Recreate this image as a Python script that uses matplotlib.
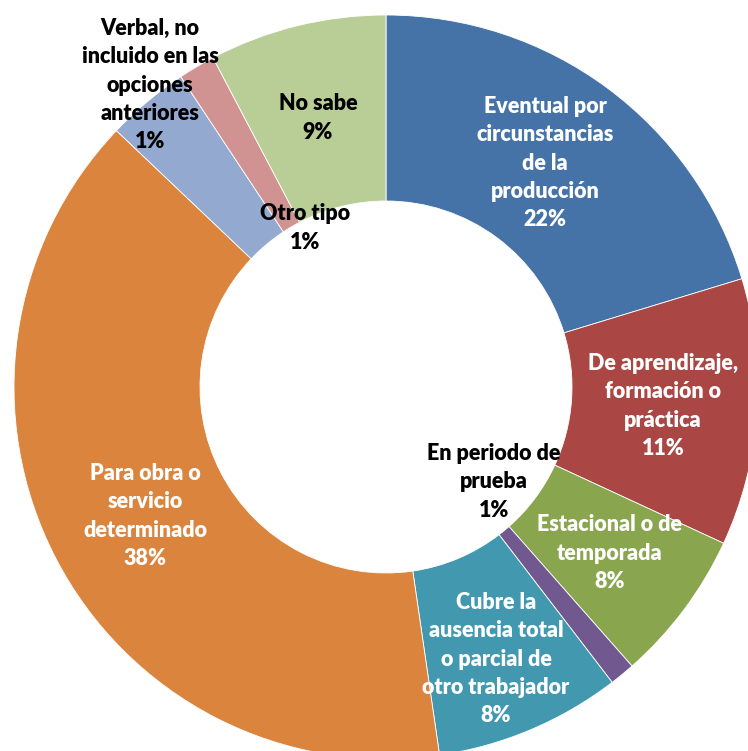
import matplotlib
matplotlib.use("Agg")
import matplotlib.pyplot as plt

# Slice shares (clockwise from 12 o'clock)
categories = [
    "Eventual por\ncircunstancias\nde la\nproducción",
    "De aprendizaje,\nformación o\npráctica",
    "Estacional o de\ntemporada",
    "En periodo de\nprueba",
    "Cubre la\nausencia total\no parcial de\notro trabajador",
    "Para obra o\nservicio\ndeterminado",
    "Verbal, no\nincluido en las\nopciones\nanteriores",
    "Otro tipo",
    "No sabe",
]
values = [20.3, 11.6, 6.6, 1.1, 8.1, 39.4, 3.6, 1.6, 7.7]
pct_labels = ["22%", "11%", "8%", "1%", "8%", "38%", "1%", "1%", "9%"]
colors = ["#4572A7", "#AA4643", "#89A54E", "#71588F", "#4198AF",
          "#DB843D", "#93A9CF", "#D19392", "#B9CD96"]
label_colors = ["white", "white", "white", "black", "white",
                "white", "black", "black", "black"]
# label anchor positions in pixels (x, y from top)
label_pos = [(545, 163), (663, 406), (610, 553), (494, 482), (496, 659),
             (145, 516), (150, 85), (305, 228), (318, 118)]

W, H = 748, 751
fig = plt.figure(figsize=(W / 100, H / 100), dpi=100)
ax = fig.add_axes([0, 0, 1, 1])
cx, cy, R = 386, H - 387, 372
ax.pie(values, colors=colors, startangle=90, counterclock=False,
       center=(cx, cy), radius=R,
       wedgeprops=dict(width=R * 0.5, edgecolor="white", linewidth=0.6))
ax.set_aspect("auto")
ax.set_xlim(0, W)
ax.set_ylim(0, H)
ax.axis("off")

for cat, pct, col, (px, py) in zip(categories, pct_labels, label_colors, label_pos):
    ax.text(px, H - py, cat + "\n" + pct, ha="center", va="center",
            color=col, fontsize=15.5, fontweight="heavy", family="Lato",
            linespacing=1.43)

fig.savefig("out.png", dpi=100)
